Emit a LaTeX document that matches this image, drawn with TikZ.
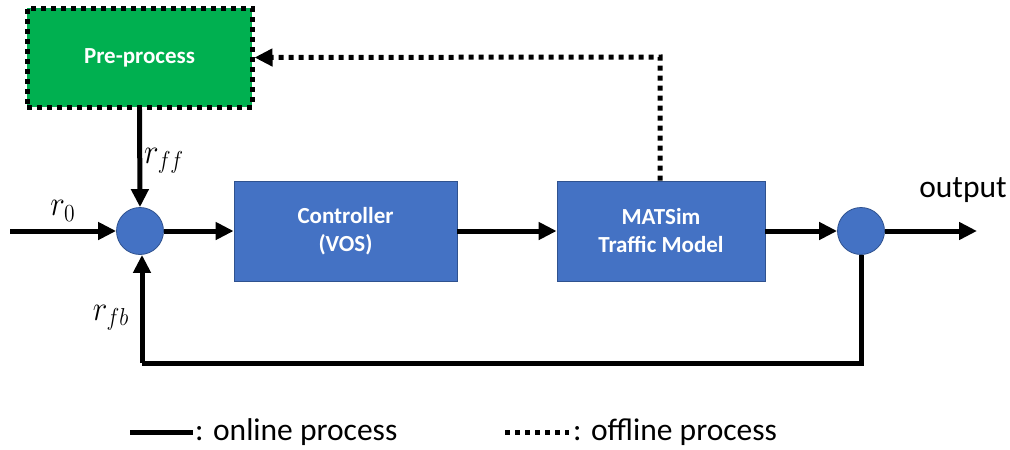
\documentclass[tikz,border=0pt]{standalone}
\usepackage{graphicx}
\usepackage{fontspec}
\setmainfont{Carlito}
\usetikzlibrary{arrows.meta}
\definecolor{boxblue}{HTML}{4472C4}
\definecolor{boxedge}{HTML}{2F528F}
\definecolor{boxgreen}{HTML}{00B050}
\newcommand{\bigmath}[1]{\scalebox{1.5}[1.7]{$#1$}}
\tikzset{
  flow/.style={line width=5pt, -{Triangle[length=18pt,width=17pt]}},
  online/.style={line width=5pt},
  offline/.style={line width=5pt, dash pattern=on 5pt off 5pt},
  block/.style={draw=boxedge, line width=0.8pt, fill=boxblue, text=white,
    font=\fontsize{23}{28}\selectfont\bfseries, align=center,
    minimum width=#1, minimum height=100pt, inner sep=0pt},
  junction/.style={circle, draw=boxedge, line width=0.8pt, fill=boxblue,
    minimum size=47pt, inner sep=0pt},
  lbl/.style={font=\fontsize{31.5}{36}\selectfont},
  mlbl/.style={font=\fontsize{20.74}{25}\selectfont},
}
\begin{document}
\begin{tikzpicture}[x=1pt,y=-1pt]
\useasboundingbox (0,0) rectangle (1010,450);

% pre-processing block (offline)
\node[fill=boxgreen, draw=black, offline, text=white,
  font=\fontsize{23}{28}\selectfont\bfseries,
  minimum width=225pt, minimum height=99pt, inner sep=0pt]
  (pre) at (139.5,57.5) {Pre-process};

% main loop blocks
\node[junction] (s1) at (140,231) {};
\node[block=223pt] (ctrl) at (345.5,231) {Controller\\(VOS)};
\node[block=208pt] (sim) at (661,231) {MATSim\\Traffic Model};
\node[junction] (s2) at (861,231) {};

\coordinate (in) at (10,231);
\coordinate (out) at (977,231);
\coordinate (fbR) at (861,363);
\coordinate (fbL) at (142,363);
\coordinate (offT) at (660,57);

% forward path
\draw[flow] (in) -- (s1);
\draw[flow] (s1) -- (ctrl);
\draw[flow] (ctrl) -- (sim);
\draw[flow] (sim) -- (s2);
\draw[flow] (s2) -- (out);
\draw[flow] (pre.south) -- (s1.north);

% feedback path
\draw[online, line join=miter] (s2.south) -- (fbR) -- (fbL) -- ([xshift=2pt]s1.south |- fbL);
\draw[flow] (fbL) -- (fbL |- s1.south);

% offline path back to pre-processing
\draw[offline, -{Triangle[length=18pt,width=17pt]}] (sim.north -| offT) -- (offT) -- (pre.east);

% labels
\node[mlbl] (r0) at (63,211) {\bigmath{r_0}};
\node[mlbl] (rff) at (164,161) {\bigmath{r_{ff}}};
\node[mlbl] (rfb) at (111,318) {\bigmath{r_{fb}}};
\node[lbl] (outl) at (963,190) {output};

% legend
\coordinate (l1a) at (130,432);
\coordinate (l1b) at (193,432);
\coordinate (l2a) at (505,432);
\coordinate (l2b) at (569,432);
\draw[online] (l1a) -- (l1b);
\node[lbl, anchor=west, inner sep=2pt] (leg1) at (l1b) {: online process};
\draw[offline] (l2a) -- (l2b);
\node[lbl, anchor=west, inner sep=2pt] (leg2) at ([xshift=2pt]l2b) {: offline process};
\end{tikzpicture}
\end{document}
